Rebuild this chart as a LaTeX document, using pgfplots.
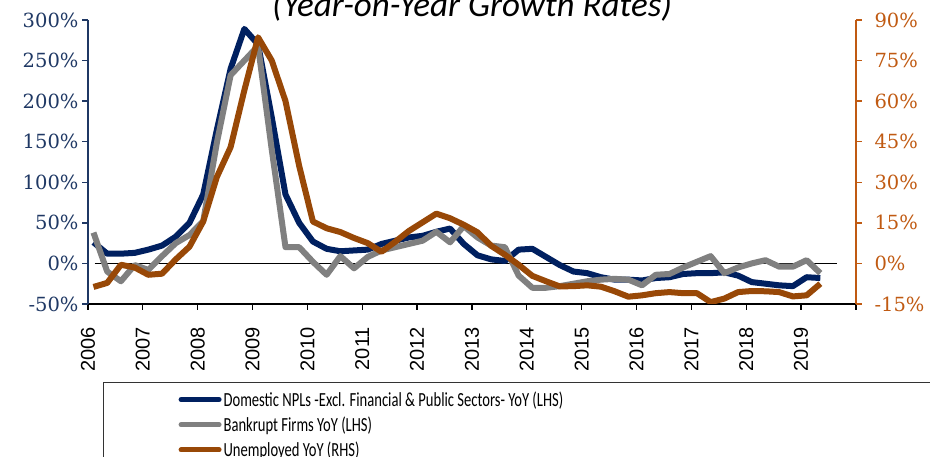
\documentclass[border=0pt]{standalone}
\usepackage{fontspec}
\usepackage{pgfplots}
\usepackage{pgfplotstable}
\pgfplotsset{compat=1.18}
\setmainfont{DejaVu Serif}
\newfontfamily\xfont{Liberation Sans}
\newfontfamily\legfont[FakeStretch=0.73]{Carlito}
\newfontfamily\titlefont{Carlito}
\definecolor{npl}{HTML}{002060}
\definecolor{bkr}{HTML}{808080}
\definecolor{une}{HTML}{984807}
\definecolor{lhs}{HTML}{1F3864}
\definecolor{rhs}{HTML}{C05A12}

% quarterly YoY growth, % (npl, bkr on LHS; une on RHS)
\pgfplotstableread{
t npl bkr une
2006.10 26 38 -8.7
2006.35 12 -10 -7.2
2006.60 12 -22 -0.5
2006.85 13 -2 -1.5
2007.10 17 -8 -4.2
2007.35 22 9 -3.8
2007.60 33 25 1.5
2007.85 50 35 6.2
2008.10 85 52 15.5
2008.35 165 149 32
2008.60 240 232 43
2008.85 289 250 64
2009.10 270 268 83.6
2009.35 180 140 75
2009.60 85 20 60
2009.85 50 20 36
2010.10 27 2 15.5
2010.35 18 -14 13
2010.60 15 9 11.6
2010.85 16 -6 9.4
2011.10 17 8 7.5
2011.35 24 16 4.3
2011.60 28 20 8
2011.85 32 24 12
2012.10 34 28 15.2
2012.35 39 39 18.4
2012.60 43 26 16.7
2012.85 24 46 14.3
2013.10 10 32 11.5
2013.35 5 22 6.5
2013.60 3 20 3.2
2013.85 17 -15 -0.5
2014.10 18 -30 -4.6
2014.35 8 -30 -6.6
2014.60 -2 -28 -8.5
2014.85 -10 -25 -8.4
2015.10 -12 -22 -8.1
2015.35 -17 -20 -8.6
2015.60 -20 -19 -10.3
2015.85 -20 -20 -12.3
2016.10 -21 -27 -11.8
2016.35 -18 -14 -11
2016.60 -17 -13 -10.6
2016.85 -13 -5 -11
2017.10 -12 2 -11
2017.35 -12 9 -14.3
2017.60 -11 -12 -13
2017.85 -15 -5 -10.6
2018.10 -23 0 -10.2
2018.35 -25 4 -10.3
2018.60 -27 -4 -10.6
2018.85 -28 -4 -12.2
2019.10 -17 4 -11.8
2019.35 -18 -12 -7.5
}\data

\pgfplotsset{
  base/.style={
    scale only axis, width=768pt, height=284pt,
    at={(88pt,153pt)}, anchor=south west,
    xmin=2006, xmax=2020, xtick={2006,...,2020},
    tick align=outside, major tick length=6pt,
    axis line style={-},
  },
  series/.style={line width=6pt, line join=round},
}

\begin{document}
\begin{tikzpicture}[x=1pt,y=1pt]

\begin{axis}[base,
  axis x line*=bottom, axis y line*=left,
  ymin=-50, ymax=300, ytick={-50,0,...,300},
  yticklabels={-50\%,0\%,50\%,100\%,150\%,200\%,250\%,300\%},
  xticklabels={2006,2007,2008,2009,2010,2011,2012,2013,2014,2015,2016,2017,2018,2019,{}},
  x tick label style={font=\xfont\fontsize{20}{20}\selectfont, rotate=90, anchor=east, text=black, inner xsep=10pt},
  xticklabel shift=7pt,
  y tick label style={font=\fontsize{19.5}{20}\selectfont, text=lhs},
  x axis line style={black, line width=1.3pt},
  y axis line style={lhs, line width=1.3pt},
  xtick style={black, line width=1.3pt},
  ytick style={lhs, line width=1.3pt},
]
\addplot[black, line width=1.2pt] coordinates {(2006.12,0) (2019.65,0)};
\addplot[series, npl] table[x=t, y=npl] {\data};
\addplot[series, bkr] table[x=t, y=bkr] {\data};
\end{axis}

\begin{axis}[base,
  axis y line*=right, axis x line=none,
  ymin=-15, ymax=90, ytick={-15,0,...,90},
  yticklabels={\hspace*{9pt}-15\%,\hspace*{9pt}0\%,\hspace*{9pt}15\%,\hspace*{9pt}30\%,\hspace*{9pt}45\%,\hspace*{9pt}60\%,\hspace*{9pt}75\%,\hspace*{9pt}90\%},
  y tick label style={font=\fontsize{19.5}{20}\selectfont, text=rhs},
  y axis line style={rhs, line width=1.3pt},
  ytick style={rhs, line width=1.3pt},
  legend cell align=left,
  legend image code/.code={\draw[#1, line width=5pt, line cap=round] (0pt,0pt) -- (38pt,0pt);},
  legend style={at={(axis description cs:0.0195,-0.2746)}, anchor=north west,
    draw=black!80, line width=1.2pt, inner xsep=75pt, inner ysep=7pt,
    font=\legfont\fontsize{20}{20}\selectfont, row sep=5pt,
    /tikz/every even column/.append style={column sep=2pt}},
]
\addlegendimage{npl}
\addlegendentry{Domestic NPLs -Excl. Financial \& Public Sectors- YoY (LHS)\hspace*{400pt}}
\addlegendimage{bkr}
\addlegendentry{Bankrupt Firms YoY (LHS)}
\addplot[series, une] table[x=t, y=une] {\data};
\addlegendentry{Unemployed YoY (RHS)}
\end{axis}

\node[anchor=base, font=\titlefont\itshape\fontsize{35}{35}\selectfont] at (472,440) {(Year-on-Year Growth Rates)};

\pgfresetboundingbox
\path[use as bounding box] (0,0) rectangle (930,457);
\end{tikzpicture}
\end{document}
